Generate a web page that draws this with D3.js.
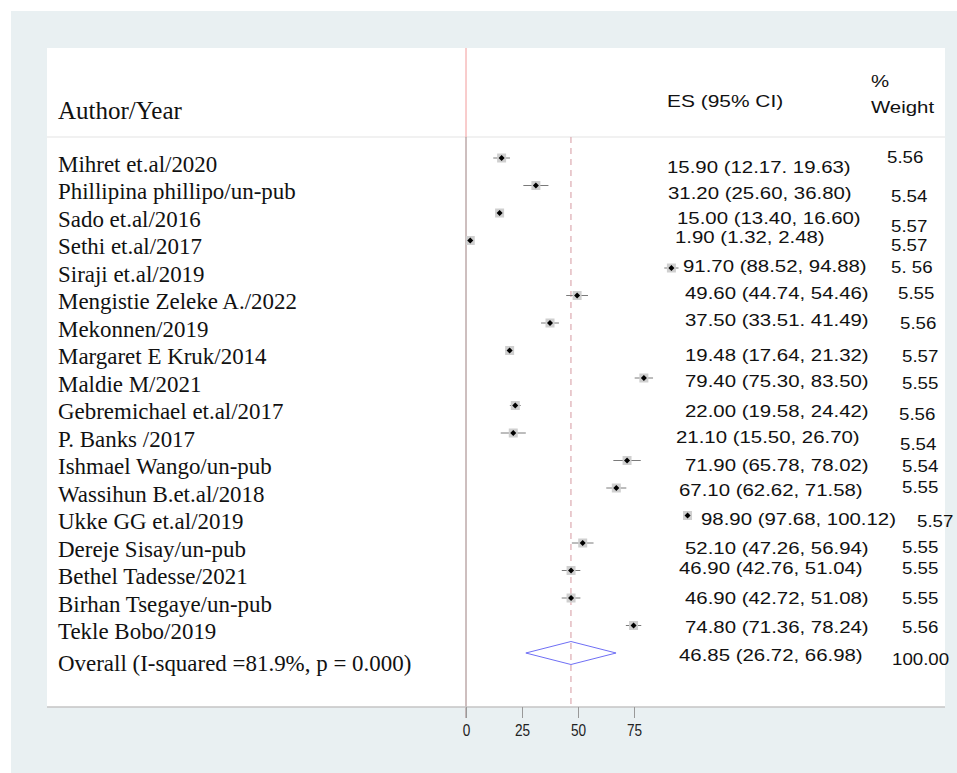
<!DOCTYPE html>
<html>
<head>
<meta charset="utf-8">
<script src="https://cdn.jsdelivr.net/npm/d3@7"></script>
<style>
  html, body { margin: 0; padding: 0; background: #ffffff; }
  svg { display: block; }
  .serif { font-family: "Liberation Serif", "Times New Roman", serif; fill: #111; }
  .sans  { font-family: "Liberation Sans", Arial, sans-serif; fill: #111; }
</style>
</head>
<body>
<svg id="chart" width="957" height="773"></svg>
<script>
// ---- study data ----
const studies = [
  "Mihret et.al/2020", "Phillipina phillipo/un-pub", "Sado et.al/2016", "Sethi et.al/2017",
  "Siraji et.al/2019", "Mengistie Zeleke A./2022", "Mekonnen/2019", "Margaret E Kruk/2014",
  "Maldie M/2021", "Gebremichael et.al/2017", "P. Banks /2017", "Ishmael Wango/un-pub",
  "Wassihun B.et.al/2018", "Ukke GG et.al/2019", "Dereje Sisay/un-pub", "Bethel Tadesse/2021",
  "Birhan Tsegaye/un-pub", "Tekle Bobo/2019"
];
const es   = [15.90, 31.20, 15.00, 1.90, 91.70, 49.60, 37.50, 19.48, 79.40, 22.00, 21.10, 71.90, 67.10, 98.90, 52.10, 46.90, 46.90, 74.80];
const lo   = [12.17, 25.60, 13.40, 1.32, 88.52, 44.74, 33.51, 17.64, 75.30, 19.58, 15.50, 65.78, 62.62, 97.68, 47.26, 42.76, 42.72, 71.36];
const hi   = [19.63, 36.80, 16.60, 2.48, 94.88, 54.46, 41.49, 21.32, 83.50, 24.42, 26.70, 78.02, 71.58, 100.12, 56.94, 51.04, 51.08, 78.24];
const weights = [5.56, 5.54, 5.57, 5.57, 5.56, 5.55, 5.56, 5.57, 5.55, 5.56, 5.54, 5.54, 5.55, 5.57, 5.55, 5.55, 5.55, 5.56];
const esText = [
  "15.90 (12.17. 19.63)", "31.20 (25.60, 36.80)", "15.00 (13.40, 16.60)", "1.90 (1.32, 2.48)",
  "91.70 (88.52, 94.88)", "49.60 (44.74, 54.46)", "37.50 (33.51. 41.49)", "19.48 (17.64, 21.32)",
  "79.40 (75.30, 83.50)", "22.00 (19.58, 24.42)", "21.10 (15.50, 26.70)", "71.90 (65.78, 78.02)",
  "67.10 (62.62, 71.58)", "98.90 (97.68, 100.12)", "52.10 (47.26, 56.94)", "46.90 (42.76, 51.04)",
  "46.90 (42.72, 51.08)", "74.80 (71.36, 78.24)"
];
const weightText = ["5.56", "5.54", "5.57", "5.57", "5. 56", "5.55", "5.56", "5.57", "5.55", "5.56",
  "5.54", "5.54", "5.55", "5.57", "5.55", "5.55", "5.55", "5.56"];

// pooled estimate
const overallLabel = "Overall (I-squared =81.9%, p = 0.000)";
const overall = { es: 46.85, lo: 26.72, hi: 66.98 };
const overallText = "46.85 (26.72, 66.98)";
const overallWeight = "100.00";

const tickValues = [0, 25, 50, 75];

// ---- text placement nudges for the ES and weight columns (px) ----
const esNudgeX = [-18, -17, -8, -10, -2, 0, 0, 0, 0, 0, -9, 0, -6, 16, 0, -6, 0, 0];
const esNudgeY = [9, 7.5, 5, -3.5, -2, -2.5, -3, 4.5, 3, 5.5, 4, 4.5, 2, 3.5, 5, -2.5, 0, 1.5];
const wtNudgeX = [-15, -11, -11, -11, -11, -4, -2, 0, 0, -3, -2, 0, 0, 15, 0, 0, 0, 0];
const wtNudgeY = [-1, 10.5, 13, 4.5, -1, -2.5, 0, 5.5, 5, 8.5, 11, 5.5, -1, 5.5, 4, -2.5, 0, 1.5];

// ---- layout ----
const W = 957, H = 773;
const outer = { x: 11, y: 11 };
const panel = { x: 47, y: 48, r: 945, b: 707 };
const headerLine = 137;
const esCol = 685, wtCol = 902;
const sansSize = 17, stretch = 1.2, wtStretch = 1.1;
const serifSize = 22.5, serifStretch = 1.02;

const svg = d3.select("#chart");

svg.append("rect").attr("x", outer.x).attr("y", outer.y)
  .attr("width", W - outer.x).attr("height", H - outer.y).attr("fill", "#e9f0f2");
svg.append("rect").attr("x", panel.x).attr("y", panel.y)
  .attr("width", panel.r - panel.x).attr("height", panel.b - panel.y).attr("fill", "#ffffff");

const x = d3.scaleLinear().domain([0, 100]).range([466, 690]);
const y = d3.scaleLinear().domain([0, studies.length]).range([158, 653]);

// header rule
svg.append("line").attr("x1", panel.x).attr("x2", panel.r)
  .attr("y1", headerLine).attr("y2", headerLine)
  .attr("stroke", "#e4e4e4").attr("stroke-width", 1.2);

// null line: red through the header, darker below
svg.append("line").attr("x1", x(0)).attr("x2", x(0))
  .attr("y1", panel.y).attr("y2", headerLine)
  .attr("stroke", "#f29a9a").attr("stroke-width", 1);
svg.append("line").attr("x1", x(0)).attr("x2", x(0))
  .attr("y1", headerLine).attr("y2", panel.b + 11)
  .attr("stroke", "#9c7e7e").attr("stroke-width", 1);

// pooled-estimate reference line
svg.append("line").attr("x1", x(overall.es)).attr("x2", x(overall.es))
  .attr("y1", headerLine).attr("y2", panel.b)
  .attr("stroke", "#dcaab0").attr("stroke-width", 1.2)
  .attr("stroke-dasharray", "6,5");

// header texts
svg.append("text").attr("class", "serif")
  .attr("transform", "translate(58,119)")
  .attr("font-size", 25).text("Author/Year");
svg.append("text").attr("class", "sans")
  .attr("transform", `translate(667,107) scale(1.23,1)`)
  .attr("font-size", sansSize).text("ES (95% CI)");
svg.append("text").attr("class", "sans")
  .attr("transform", `translate(871,87) scale(${stretch},1)`)
  .attr("font-size", sansSize).text("%");
svg.append("text").attr("class", "sans")
  .attr("transform", `translate(871,113) scale(${stretch},1)`)
  .attr("font-size", sansSize).text("Weight");

// study rows
const rows = svg.append("g").selectAll("g").data(studies).join("g");

rows.append("text").attr("class", "serif")
  .attr("transform", (d, i) => `translate(58,${y(i) + 6}) scale(${serifStretch},1)`)
  .attr("dy", "0.35em").attr("font-size", serifSize)
  .text(d => d);

rows.append("line")
  .attr("x1", (d, i) => x(lo[i])).attr("x2", (d, i) => x(hi[i]))
  .attr("y1", (d, i) => y(i)).attr("y2", (d, i) => y(i))
  .attr("stroke", "#7a7a7a").attr("stroke-width", 1);

const box = d3.scaleSqrt().domain([0, 5.57]).range([0, 9]);
rows.append("rect")
  .attr("x", (d, i) => x(es[i]) - box(weights[i]) / 2)
  .attr("y", (d, i) => y(i) - box(weights[i]) / 2)
  .attr("width", (d, i) => box(weights[i]))
  .attr("height", (d, i) => box(weights[i]))
  .attr("fill", "#cfcfcf");

rows.append("path")
  .attr("transform", (d, i) => `translate(${x(es[i])},${y(i)}) rotate(45)`)
  .attr("d", d3.symbol().type(d3.symbolSquare).size(18))
  .attr("fill", "#000");

rows.append("text").attr("class", "sans")
  .attr("transform", (d, i) => `translate(${esCol + esNudgeX[i]},${y(i) + esNudgeY[i]}) scale(${stretch},1)`)
  .attr("dy", "0.36em").attr("font-size", sansSize)
  .text((d, i) => esText[i]);

rows.append("text").attr("class", "sans")
  .attr("transform", (d, i) => `translate(${wtCol + wtNudgeX[i]},${y(i) + wtNudgeY[i]}) scale(${wtStretch},1)`)
  .attr("dy", "0.36em").attr("font-size", sansSize)
  .text((d, i) => weightText[i]);

// overall row
const yo = y(studies.length);
svg.append("text").attr("class", "serif")
  .attr("transform", `translate(58,${yo + 10}) scale(${serifStretch},1)`)
  .attr("dy", "0.35em").attr("font-size", serifSize).text(overallLabel);
svg.append("path")
  .attr("d", `M${x(overall.lo)},${yo} L${x(overall.es)},${yo - 11.5} L${x(overall.hi)},${yo} L${x(overall.es)},${yo + 11.5} Z`)
  .attr("fill", "none").attr("stroke", "#6f6ff5").attr("stroke-width", 1);
svg.append("text").attr("class", "sans")
  .attr("transform", `translate(${esCol - 6},${yo + 2}) scale(${stretch},1)`)
  .attr("dy", "0.36em").attr("font-size", sansSize).text(overallText);
svg.append("text").attr("class", "sans")
  .attr("transform", `translate(${wtCol - 10},${yo + 6}) scale(${wtStretch},1)`)
  .attr("dy", "0.36em").attr("font-size", sansSize).text(overallWeight);

// bottom frame line and x axis
svg.append("line").attr("x1", panel.x).attr("x2", panel.r)
  .attr("y1", panel.b).attr("y2", panel.b)
  .attr("stroke", "#c4c4c4").attr("stroke-width", 1.5);

const axis = svg.append("g").attr("transform", `translate(0,${panel.b})`)
  .call(d3.axisBottom(x).tickValues(tickValues).tickSize(11).tickPadding(7).tickFormat(d3.format("d")));
axis.select(".domain").remove();
axis.selectAll(".tick line").attr("stroke", "#999");
axis.selectAll(".tick text")
  .attr("font-family", "Liberation Sans, Arial, sans-serif")
  .attr("font-size", 16).attr("fill", "#222")
  .attr("transform", "scale(0.85,1)");
</script>
</body>
</html>
